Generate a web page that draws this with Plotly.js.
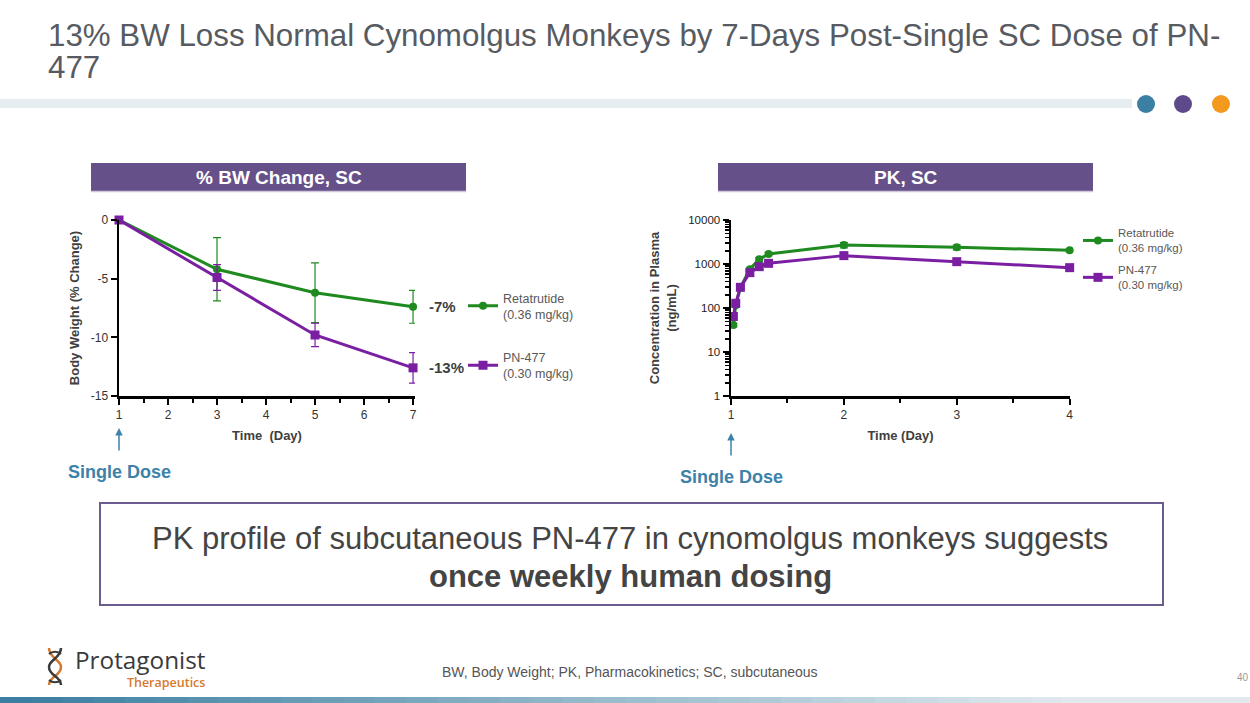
<!DOCTYPE html>
<html><head><meta charset="utf-8">
<script src="https://cdn.plot.ly/plotly-3.0.1.min.js"></script>
<style>html,body{margin:0;padding:0;background:#fff;overflow:hidden}#chart{width:1250px;height:703px}</style>
</head><body><div id="chart"></div>
<script>
// ---- Data: % body-weight change ----
const bwDays = [1, 3, 5, 7];
const bwReta = [0, -4.2, -6.2, -7.4];
const bwRetaErr = [0, 2.7, 2.55, 1.4];
const bwPN = [0, -4.9, -9.8, -12.6];
const bwPNErr = [0, 1.1, 1.0, 1.3];
const bwEndLabels = ['-7%', '-13%'];
const bwXTicks = [1, 2, 3, 4, 5, 6, 7];
const bwYTickVals = [0, -5, -10, -15];
const bwYTickText = ['0', '-5', '-10', '-15'];

// ---- Data: PK plasma concentration (ng/mL) ----
const pkTimes = [1.021, 1.042, 1.083, 1.167, 1.25, 1.333, 2, 3, 4];
const pkReta = [41, 115, 290, 760, 1280, 1690, 2700, 2400, 2050];
const pkRetaErr = [4, 10, 25, 60, 120, 150, 380, 300, 200];
const pkPN = [64, 128, 295, 636, 870, 1035, 1550, 1130, 826];
const pkPNErr = [5, 10, 20, 50, 70, 80, 150, 100, 80];
const pkXTicks = [1, 2, 3, 4];
const pkYTickVals = [1, 10, 100, 1000, 10000];
const pkYTickText = ['1', '10', '100', '1000', '10000'];

const seriesNames = ['Retatrutide<br>(0.36 mg/kg)', 'PN-477<br>(0.30 mg/kg)'];
const seriesColors = ['#1f8a1f', '#7a1fa2'];

// ---- Text ----
const slideTitleLines = ['13% BW Loss Normal Cynomolgus Monkeys by 7-Days Post-Single SC Dose of PN-', '477'];
const panelTitles = ['% BW Change, SC', 'PK, SC'];
const doseLabel = 'Single Dose';
const boxLine1 = 'PK profile of subcutaneous PN-477 in cynomolgus monkeys suggests';
const boxLine2 = 'once weekly human dosing';
const footnote = 'BW, Body Weight; PK, Pharmacokinetics; SC, subcutaneous';
const pageNum = '40';
const logoName = 'Protagonist';
const logoSub = 'Therapeutics';

const W = 1250, H = 703;
const px = v => v / W;
const py = v => 1 - v / H;
const FONT = 'Liberation Sans, Arial, sans-serif';
const LOGOFONT = 'Open Sans, sans-serif';

const traces = [
  {x: bwDays, y: bwReta, name: seriesNames[0], xaxis: 'x', yaxis: 'y', mode: 'lines+markers',
   line: {color: seriesColors[0], width: 3}, marker: {symbol: 'circle', size: 8, color: seriesColors[0]},
   error_y: {type: 'data', array: bwRetaErr, color: seriesColors[0], thickness: 1.2, width: 4},
   legend: 'legend', legendgroup: 'a', cliponaxis: false},
  {x: bwDays, y: bwPN, name: seriesNames[1], xaxis: 'x', yaxis: 'y', mode: 'lines+markers',
   line: {color: seriesColors[1], width: 3}, marker: {symbol: 'square', size: 9, color: seriesColors[1]},
   error_y: {type: 'data', array: bwPNErr, color: seriesColors[1], thickness: 1.2, width: 4},
   legend: 'legend', legendgroup: 'b', cliponaxis: false},
  {x: pkTimes, y: pkReta, name: seriesNames[0], xaxis: 'x2', yaxis: 'y2', mode: 'lines+markers',
   line: {color: seriesColors[0], width: 3}, marker: {symbol: 'circle', size: 8, color: seriesColors[0]},
   error_y: {type: 'data', array: pkRetaErr, color: seriesColors[0], thickness: 1.2, width: 4},
   legend: 'legend2', legendgroup: 'c', cliponaxis: false},
  {x: pkTimes, y: pkPN, name: seriesNames[1], xaxis: 'x2', yaxis: 'y2', mode: 'lines+markers',
   line: {color: seriesColors[1], width: 3}, marker: {symbol: 'square', size: 9, color: seriesColors[1]},
   error_y: {type: 'data', array: pkPNErr, color: seriesColors[1], thickness: 1.2, width: 4},
   legend: 'legend2', legendgroup: 'd', cliponaxis: false}
];

const axisCommon = {
  showline: true, linecolor: '#000', linewidth: 2.5, ticks: 'outside', ticklen: 6, tickwidth: 2,
  tickcolor: '#000', showgrid: false, zeroline: false, fixedrange: true,
  tickfont: {family: FONT, size: 12, color: '#333'}
};
const titleFont = {family: FONT, size: 13, color: '#404040'};

const shapes = [];
// top divider bar and dots
shapes.push({type: 'rect', xref: 'paper', yref: 'paper', x0: 0, x1: px(1132), y0: py(108), y1: py(99), fillcolor: '#e6edf1', line: {width: 0}, layer: 'below'});
[['#3b7fa3', 1146], ['#5e4a8b', 1183], ['#f39a1e', 1221]].forEach(([c, cx]) => {
  shapes.push({type: 'circle', xref: 'paper', yref: 'paper', x0: px(cx - 9), x1: px(cx + 9), y0: py(113), y1: py(95), fillcolor: c, line: {width: 0}});
});
// panel header boxes
[[91, 466], [718, 1093]].forEach(([a, b]) => {
  shapes.push({type: 'rect', xref: 'paper', yref: 'paper', x0: px(a), x1: px(b), y0: py(191), y1: py(163), fillcolor: '#66508a', line: {width: 0}, layer: 'below'});
  shapes.push({type: 'line', xref: 'paper', yref: 'paper', x0: px(a), x1: px(b), y0: py(191.5), y1: py(191.5), line: {color: '#cfc6dd', width: 1.5}, layer: 'below'});
});
// conclusion box
shapes.push({type: 'rect', xref: 'paper', yref: 'paper', x0: px(100), x1: px(1163), y0: py(605), y1: py(503), line: {color: '#6b5b8e', width: 2}, fillcolor: 'rgba(0,0,0,0)'});
// bottom gradient bar (stepped)
const steps = 40;
const c0 = [59, 126, 161], c1 = [226, 234, 239];
for (let i = 0; i < steps; i++) {
  const t = i / (steps - 1);
  const c = c0.map((v, k) => Math.round(v + (c1[k] - v) * Math.min(1, t * 1.15)));
  shapes.push({type: 'rect', xref: 'paper', yref: 'paper', x0: i / steps, x1: (i + 1) / steps + 0.001, y0: 0, y1: py(697),
    fillcolor: `rgb(${c[0]},${c[1]},${c[2]})`, line: {width: 0}});
}
// logo helix
shapes.push({type: 'path', xref: 'x3', yref: 'y3', path: 'M 49 648 C 49 658, 61 660, 61 667 C 61 676, 49 676, 49 685', line: {color: '#d6792e', width: 2.5}});
shapes.push({type: 'path', xref: 'x3', yref: 'y3', path: 'M 61 648 C 61 658, 49 660, 49 667 C 49 676, 61 676, 61 685', line: {color: '#3a3a3a', width: 2.5}});
shapes.push({type: 'path', xref: 'x3', yref: 'y3', path: 'M 49 654 C 52 651, 58 651, 61 654', line: {color: '#3a3a3a', width: 2}});
shapes.push({type: 'path', xref: 'x3', yref: 'y3', path: 'M 49 680 C 52 683, 58 683, 61 680', line: {color: '#3a3a3a', width: 2}});

const mid = {yanchor: 'middle', showarrow: false};
const ctr = {xanchor: 'center', yanchor: 'middle', showarrow: false};
const annotations = [
  Object.assign({xref: 'paper', yref: 'paper', x: px(46), y: py(35), xanchor: 'left', text: slideTitleLines[0], font: {family: FONT, size: 31.3, color: '#575b61'}}, mid),
  Object.assign({xref: 'paper', yref: 'paper', x: px(46), y: py(68), xanchor: 'left', text: slideTitleLines[1], font: {family: FONT, size: 31.3, color: '#575b61'}}, mid),
  Object.assign({xref: 'paper', yref: 'paper', x: px(278.5), y: py(177), text: '<b>' + panelTitles[0] + '</b>', font: {family: FONT, size: 19, color: '#fff'}}, ctr),
  Object.assign({xref: 'paper', yref: 'paper', x: px(905.5), y: py(177), text: '<b>' + panelTitles[1] + '</b>', font: {family: FONT, size: 19, color: '#fff'}}, ctr),
  Object.assign({xref: 'x', yref: 'y', x: bwDays[3], y: bwReta[3], xanchor: 'left', xshift: 14, text: '<b>' + bwEndLabels[0] + '</b>', font: {family: FONT, size: 15, color: '#404040'}}, mid),
  Object.assign({xref: 'x', yref: 'y', x: bwDays[3], y: bwPN[3], xanchor: 'left', xshift: 14, text: '<b>' + bwEndLabels[1] + '</b>', font: {family: FONT, size: 15, color: '#404040'}}, mid),
  {xref: 'x', yref: 'paper', x: 1, y: py(428), ax: 0, ay: 44, showarrow: true, arrowhead: 2, arrowsize: 1, arrowwidth: 1.5, arrowcolor: '#3d82a8', startstandoff: 10,
   text: '<b>' + doseLabel + '</b>', font: {family: FONT, size: 18, color: '#3d82a8'}},
  {xref: 'x2', yref: 'paper', x: 1, y: py(433), ax: 0, ay: 44, showarrow: true, arrowhead: 2, arrowsize: 1, arrowwidth: 1.5, arrowcolor: '#3d82a8', startstandoff: 10,
   text: '<b>' + doseLabel + '</b>', font: {family: FONT, size: 18, color: '#3d82a8'}},
  Object.assign({xref: 'paper', yref: 'paper', x: px(630), y: py(538), text: boxLine1, font: {family: FONT, size: 31, color: '#444'}}, ctr),
  Object.assign({xref: 'paper', yref: 'paper', x: px(630), y: py(576), text: '<b>' + boxLine2 + '</b>', font: {family: FONT, size: 31, color: '#444'}}, ctr),
  Object.assign({xref: 'paper', yref: 'paper', x: px(208), y: py(667), xanchor: 'right', align: 'right',
    text: '<span style="font-size:24.3px;color:#3a3a3a">' + logoName + '</span><br><span style="font-size:12.5px;font-weight:600;color:#d6792e">' + logoSub + '</span>',
    font: {family: LOGOFONT, size: 13.5, color: '#3a3a3a'}}, mid),
  Object.assign({xref: 'paper', yref: 'paper', x: px(630), y: py(672), text: footnote, font: {family: FONT, size: 14, color: '#555'}}, ctr),
  Object.assign({xref: 'paper', yref: 'paper', x: px(1243), y: py(677), text: pageNum, font: {family: FONT, size: 10, color: '#999'}}, ctr)
];

const layout = {
  width: W, height: H, margin: {l: 0, r: 0, t: 0, b: 0}, paper_bgcolor: '#fff', plot_bgcolor: 'rgba(0,0,0,0)',
  font: {family: FONT},
  showlegend: true,
  xaxis: Object.assign({}, axisCommon, {domain: [px(119), px(415)], range: [1, 7.04], anchor: 'y', tickvals: bwXTicks,
    minor: {dtick: 0.5, tick0: 1, ticks: 'outside', ticklen: 4, tickwidth: 2, tickcolor: '#000'},
    title: {text: '<b>Time  (Day)</b>', font: titleFont, standoff: 10}}),
  yaxis: Object.assign({}, axisCommon, {domain: [py(396), py(220)], range: [-15, 0], anchor: 'x', tickvals: bwYTickVals, ticktext: bwYTickText,
    title: {text: '<b>Body Weight (% Change)</b>', font: titleFont, standoff: 8}}),
  xaxis2: Object.assign({}, axisCommon, {domain: [px(731), px(1070)], range: [1, 4.003], anchor: 'y2', tickvals: pkXTicks,
    minor: {dtick: 0.5, tick0: 1, ticks: 'outside', ticklen: 4, tickwidth: 2, tickcolor: '#000'},
    title: {text: '<b>Time (Day)</b>', font: titleFont, standoff: 10}}),
  yaxis2: Object.assign({}, axisCommon, {type: 'log', domain: [py(396), py(220)], range: [0, 4], anchor: 'x2', tickvals: pkYTickVals, ticktext: pkYTickText,
    tickfont: {family: FONT, size: 11.5, color: '#222'},
    minor: {dtick: 'D1', ticks: 'outside', ticklen: 4, tickwidth: 1.5, tickcolor: '#000'},
    title: {text: '<b>Concentration in Plasma<br>(ng/mL)</b>', font: titleFont, standoff: 9}}),
  xaxis3: {domain: [0, 1], range: [0, W], visible: false, fixedrange: true, anchor: 'y3'},
  yaxis3: {domain: [0, 1], range: [H, 0], visible: false, fixedrange: true, anchor: 'x3'},
  legend: {x: px(463), y: py(283), xanchor: 'left', yanchor: 'top', bgcolor: 'rgba(0,0,0,0)', traceorder: 'grouped', tracegroupgap: 24,
    font: {family: FONT, size: 12.5, color: '#595959'}},
  legend2: {x: px(1078), y: py(219), xanchor: 'left', yanchor: 'top', bgcolor: 'rgba(0,0,0,0)', traceorder: 'grouped', tracegroupgap: 4,
    font: {family: FONT, size: 11.5, color: '#595959'}},
  shapes: shapes,
  annotations: annotations
};

Plotly.newPlot('chart', traces, layout, {displayModeBar: false, staticPlot: true});
</script>
</body></html>
